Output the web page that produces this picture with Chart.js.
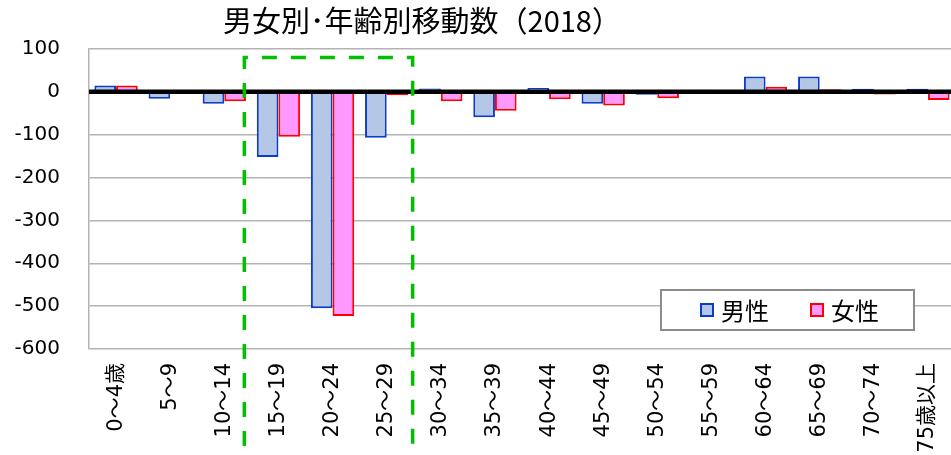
<!DOCTYPE html>
<html lang="ja">
<head>
<meta charset="UTF-8">
<title>男女別・年齢別移動数（2018）</title>
<script src="https://cdn.jsdelivr.net/npm/chart.js"></script>
<style>
  html, body { margin: 0; padding: 0; background: #fff; overflow: hidden; }
  .wrap { position: relative; width: 956px; height: 455px; }
</style>
</head>
<body>
<div class="wrap">
  <canvas id="myChart"></canvas>
</div>

<script>
// data
var categories = ['0～4歳', '5～9', '10～14', '15～19', '20～24', '25～29', '30～34', '35～39',
  '40～44', '45～49', '50～54', '55～59', '60～64', '65～69', '70～74', '75歳以上'];
var male = [15, -16, -28, -152, -505, -107, 8, -59, 9, -28, -7, 5, 36, 36, 7, 7];
var female = [15, 0, -22, -105, -523, -8, -22, -44, -17, -32, -15, 1, 12, 6, -6, -19];
var yTicks = [100, 0, -100, -200, -300, -400, -500, -600];
var titleText = '男女別･年齢別移動数（2018）';
var seriesNames = ['男性', '女性'];

// highlighted span (category index units) and its top in data units
var boxFrom = 2.37, boxTo = 5.48, boxTop = 80;

var maleFill = '#b4c7e7', maleLine = '#0a3ccc';
var femaleFill = '#ff99ff', femaleLine = '#ff0000';

var extras = {
  id: 'extras',
  afterDatasetsDraw: function (chart) {
    var ctx = chart.ctx;
    var xs = chart.scales.x, ys = chart.scales.y;
    var area = chart.chartArea;

    // zero line on top of the bars
    var y0 = ys.getPixelForValue(0);
    ctx.save();
    ctx.strokeStyle = '#000';
    ctx.lineWidth = 4.5;
    ctx.beginPath();
    ctx.moveTo(area.left, y0);
    ctx.lineTo(area.right, y0);
    ctx.stroke();

    // green dashed frame
    var step = xs.getPixelForValue(1) - xs.getPixelForValue(0);
    var x1 = xs.getPixelForValue(0) + boxFrom * step;
    var x2 = xs.getPixelForValue(0) + boxTo * step;
    var yt = ys.getPixelForValue(boxTop);
    ctx.strokeStyle = '#00c000';
    ctx.lineWidth = 3.5;
    ctx.setLineDash([15, 14]);
    ctx.beginPath();
    ctx.moveTo(x1, chart.height + 20);
    ctx.lineTo(x1, yt);
    ctx.lineTo(x2, yt);
    ctx.lineTo(x2, chart.height + 20);
    ctx.stroke();
    ctx.restore();
  },
  afterDraw: function (chart) {
    var ctx = chart.ctx;
    ctx.save();
    // title
    ctx.fillStyle = '#000';
    ctx.font = '29px "Noto Sans CJK JP"';
    ctx.textAlign = 'center';
    ctx.textBaseline = 'middle';
    ctx.fillText(titleText, 422, 21);

    // legend box
    ctx.fillStyle = '#fff';
    ctx.fillRect(661, 290, 253, 40);
    ctx.strokeStyle = '#8c8c8c';
    ctx.lineWidth = 2;
    ctx.strokeRect(661, 290, 253, 40);

    var items = [
      { x: 701, fill: maleFill, line: maleLine, text: seriesNames[0] },
      { x: 811, fill: femaleFill, line: femaleLine, text: seriesNames[1] }
    ];
    ctx.font = '24px "Noto Sans CJK JP"';
    ctx.textAlign = 'left';
    items.forEach(function (it) {
      ctx.fillStyle = it.fill;
      ctx.fillRect(it.x, 304, 12, 12);
      ctx.strokeStyle = it.line;
      ctx.lineWidth = 2;
      ctx.strokeRect(it.x, 304, 12, 12);
      ctx.fillStyle = '#000';
      ctx.fillText(it.text, it.x + 20, 311);
    });
    ctx.restore();
  }
};

var ctx = document.getElementById('myChart').getContext('2d');
var myChart = new Chart(ctx, {
  type: 'bar',
  data: {
    labels: categories,
    datasets: [{
      label: seriesNames[0],
      data: male,
      backgroundColor: maleFill,
      borderColor: maleLine,
      borderWidth: 2
    }, {
      label: seriesNames[1],
      data: female,
      backgroundColor: femaleFill,
      borderColor: femaleLine,
      borderWidth: 2
    }]
  },
  options: {
    responsive: true,
    maintainAspectRatio: false,
    animation: false,
    layout: { padding: { top: 49, right: 1, left: 0, bottom: 0 } },
    datasets: { bar: { categoryPercentage: 0.8, barPercentage: 1.0 } },
    plugins: {
      legend: { display: false },
      title: { display: false },
      tooltip: { enabled: false }
    },
    scales: {
      x: {
        grid: { display: false, drawTicks: false },
        border: { display: false },
        ticks: {
          maxRotation: 90,
          minRotation: 90,
          autoSkip: false,
          padding: 14,
          color: '#000',
          font: { family: '"DejaVu Sans", "Noto Sans CJK JP"', size: 21 }
        },
        afterFit: function (scale) {
          scale.height = 106;
          scale.paddingLeft = 0;
          scale.paddingRight = 0;
        }
      },
      y: {
        min: -600,
        max: 100,
        afterBuildTicks: function (scale) {
          scale.ticks = yTicks.map(function (v) { return { value: v }; });
        },
        grid: { color: '#b3b3b3', lineWidth: 1.5, drawTicks: false },
        border: { display: true, color: '#b3b3b3', width: 1.5 },
        ticks: {
          padding: 29,
          color: '#000',
          font: { family: '"DejaVu Sans", "Noto Sans CJK JP"', size: 20 }
        },
        afterFit: function (scale) {
          scale.width = 89;
          scale.paddingTop = 0;
          scale.paddingBottom = 0;
        }
      }
    }
  },
  plugins: [extras]
});
</script>
</body>
</html>
